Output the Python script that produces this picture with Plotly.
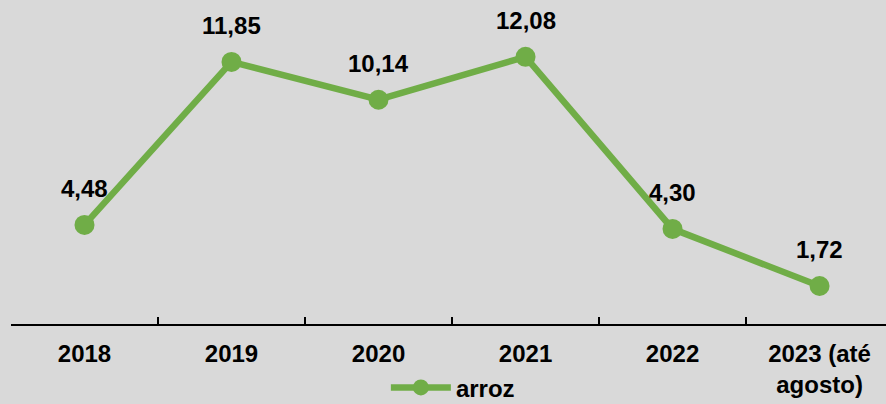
import plotly.graph_objects as go

anos = ["2018", "2019", "2020", "2021", "2022", "2023 (até<br>agosto)"]
arroz = [4.48, 11.85, 10.14, 12.08, 4.30, 1.72]
rotulos = ["4,48", "11,85", "10,14", "12,08", "4,30", "1,72"]

VERDE = "#70ad47"
FUNDO = "#d9d9d9"
FONTE = "Liberation Sans, Arial, sans-serif"

fig = go.Figure()
fig.add_trace(
    go.Scatter(
        x=anos,
        y=arroz,
        mode="lines+markers",
        name="<b>arroz</b>",
        line=dict(color=VERDE, width=6.5),
        marker=dict(color=VERDE, size=20),
    )
)

# rótulos de dados: posição pelo índice da categoria
for i, (v, r) in enumerate(zip(arroz, rotulos)):
    fig.add_annotation(
        x=i, y=v, text=f"<b>{r}</b>", showarrow=False, yshift=36,
        font=dict(size=24, color="black", family=FONTE),
    )

fig.update_layout(
    width=886,
    height=404,
    paper_bgcolor=FUNDO,
    plot_bgcolor=FUNDO,
    margin=dict(l=11, r=0, t=0, b=80, autoexpand=False),
    font=dict(family=FONTE, size=24, color="black"),
    showlegend=True,
    legend=dict(
        orientation="h", x=0.505, xanchor="center",
        yref="container", y=0.04, yanchor="middle",
        itemwidth=60,
        font=dict(size=24, color="black", family=FONTE), bgcolor="rgba(0,0,0,0)",
    ),
    xaxis=dict(
        type="category",
        tickmode="array",
        tickvals=anos,
        ticktext=[f"<b>{a}</b>" for a in anos],
        range=[-0.5, 5.452],
        automargin=False,
        showgrid=False,
        zeroline=False,
        showline=True,
        linecolor="black",
        linewidth=1.5,
        ticks="inside",
        tickson="boundaries",
        ticklen=7,
        tickcolor="black",
        tickwidth=1.5,
        ticklabelstandoff=7,
    ),
    yaxis=dict(
        range=[0, 14.65],
        showgrid=False,
        zeroline=False,
        showticklabels=False,
        showline=False,
    ),
)

# tira a margem branca do body da página
fig.write_html(
    "out.html",
    config={"displayModeBar": False},
    post_script="document.body.style.margin='0';",
)
